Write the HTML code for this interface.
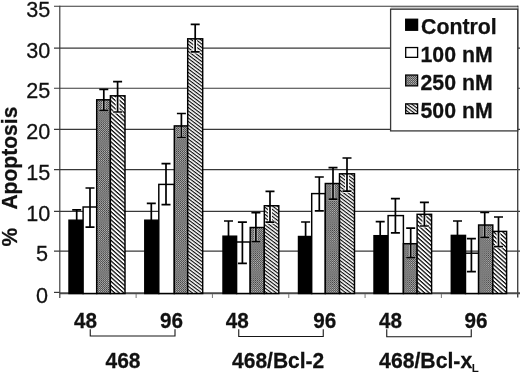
<!DOCTYPE html>
<html><head><meta charset="utf-8"><title>Apoptosis chart</title>
<style>
html,body{margin:0;padding:0;background:#fff;}
body{width:520px;height:373px;overflow:hidden;}
svg{display:block;filter:blur(0.35px);}
text{font-family:"Liberation Sans",sans-serif;fill:#111;}
.yl{font-size:21px;stroke:#111;stroke-width:0.25px;}
.b{font-size:21px;font-weight:bold;stroke:#111;stroke-width:0.25px;}
.sub{font-size:11.5px;font-weight:bold;}
.lg{font-size:21.3px;font-weight:bold;stroke:#111;stroke-width:0.25px;}
</style></head><body>
<svg width="520" height="373" viewBox="0 0 520 373">
<defs>
<pattern id="dots" width="2.08" height="2.08" patternUnits="userSpaceOnUse"><rect width="2.08" height="2.08" fill="#bcbcbc"/><rect width="1.04" height="1.04" fill="#383838"/><rect x="1.04" y="1.04" width="1.04" height="1.04" fill="#383838"/></pattern>
<pattern id="hatch" width="2.8" height="2.8" patternUnits="userSpaceOnUse" patternTransform="rotate(37)"><rect width="2.8" height="2.8" fill="#fff"/><rect width="2.8" height="1.15" fill="#080808"/></pattern>
<pattern id="hatchA" width="3.05" height="3.05" patternUnits="userSpaceOnUse" patternTransform="rotate(42)"><rect width="3.05" height="3.05" fill="#fff"/><rect width="3.05" height="1.25" fill="#080808"/></pattern>
</defs>
<rect width="520" height="373" fill="#fff"/>
<line x1="54.0" y1="6.25" x2="518.3000000000001" y2="6.25" stroke="#383838" stroke-width="1.2"/>
<line x1="54.0" y1="48.10" x2="520" y2="48.10" stroke="#383838" stroke-width="1.2"/>
<line x1="54.0" y1="88.25" x2="520" y2="88.25" stroke="#383838" stroke-width="1.2"/>
<line x1="54.0" y1="129.45" x2="520" y2="129.45" stroke="#383838" stroke-width="1.2"/>
<line x1="54.0" y1="169.70" x2="520" y2="169.70" stroke="#383838" stroke-width="1.2"/>
<line x1="54.0" y1="211.40" x2="520" y2="211.40" stroke="#383838" stroke-width="1.2"/>
<line x1="54.0" y1="251.15" x2="520" y2="251.15" stroke="#383838" stroke-width="1.2"/>
<line x1="54.0" y1="292.40" x2="59.8" y2="292.40" stroke="#383838" stroke-width="1.2"/>
<line x1="59.8" y1="293.2" x2="520" y2="293.2" stroke="#4a4a4a" stroke-width="2"/>
<line x1="59.8" y1="5.8" x2="59.8" y2="298" stroke="#383838" stroke-width="1.15"/>
<line x1="517.7" y1="5.8" x2="517.7" y2="297.6" stroke="#444" stroke-width="1.4"/>
<line x1="136.12" y1="294" x2="136.12" y2="298" stroke="#777" stroke-width="1"/>
<line x1="212.43" y1="294" x2="212.43" y2="298" stroke="#777" stroke-width="1"/>
<line x1="288.75" y1="294" x2="288.75" y2="298" stroke="#777" stroke-width="1"/>
<line x1="365.07" y1="294" x2="365.07" y2="298" stroke="#777" stroke-width="1"/>
<line x1="441.38" y1="294" x2="441.38" y2="298" stroke="#777" stroke-width="1"/>
<rect x="69.00" y="220.20" width="14.10" height="73.30" fill="#000" stroke="#000" stroke-width="1.45"/>
<rect x="83.10" y="207.00" width="13.60" height="86.50" fill="#fff" stroke="#000" stroke-width="1.45"/>
<rect x="96.70" y="99.80" width="13.70" height="193.70" fill="url(#dots)" stroke="#000" stroke-width="1.45"/>
<rect x="110.40" y="95.80" width="14.60" height="197.70" fill="url(#hatchA)" stroke="#000" stroke-width="1.45"/>
<path d="M72.20 209.80H81.20M76.70 209.80V230.60M72.20 230.60H81.20" stroke="#000" stroke-width="1.7" fill="none"/>
<path d="M85.50 188.00H94.50M90.00 188.00V227.20M85.50 227.20H94.50" stroke="#000" stroke-width="1.7" fill="none"/>
<path d="M103.80 101.00V110.30" stroke="#c8c8c8" stroke-width="3.2" fill="none"/>
<path d="M99.10 110.30H108.50" stroke="#c8c8c8" stroke-width="2.3000000000000003" fill="none"/>
<path d="M99.30 89.30H108.30M103.80 89.30V110.30M99.30 110.30H108.30" stroke="#000" stroke-width="1.7" fill="none"/>
<path d="M117.60 97.00V112.00" stroke="#fff" stroke-width="3.9" fill="none"/>
<path d="M112.90 112.00H122.30" stroke="#fff" stroke-width="3.0" fill="none"/>
<path d="M113.10 81.60H122.10M117.60 81.60V112.00M113.10 112.00H122.10" stroke="#000" stroke-width="1.7" fill="none"/>
<rect x="144.80" y="220.20" width="14.00" height="73.30" fill="#000" stroke="#000" stroke-width="1.45"/>
<rect x="158.80" y="184.40" width="15.50" height="109.10" fill="#fff" stroke="#000" stroke-width="1.45"/>
<rect x="174.30" y="125.90" width="13.40" height="167.60" fill="url(#dots)" stroke="#000" stroke-width="1.45"/>
<rect x="187.70" y="38.80" width="15.00" height="254.70" fill="url(#hatch)" stroke="#000" stroke-width="1.45"/>
<path d="M146.80 203.30H155.80M151.30 203.30V237.00M146.80 237.00H155.80" stroke="#000" stroke-width="1.7" fill="none"/>
<path d="M161.50 163.70H170.50M166.00 163.70V204.60M161.50 204.60H170.50" stroke="#000" stroke-width="1.7" fill="none"/>
<path d="M181.40 127.10V137.50" stroke="#c8c8c8" stroke-width="3.2" fill="none"/>
<path d="M176.70 137.50H186.10" stroke="#c8c8c8" stroke-width="2.3000000000000003" fill="none"/>
<path d="M176.90 113.50H185.90M181.40 113.50V137.50M176.90 137.50H185.90" stroke="#000" stroke-width="1.7" fill="none"/>
<path d="M195.20 40.00V51.90" stroke="#fff" stroke-width="3.9" fill="none"/>
<path d="M190.50 51.90H199.90" stroke="#fff" stroke-width="3.0" fill="none"/>
<path d="M190.70 24.30H199.70M195.20 24.30V51.90M190.70 51.90H199.70" stroke="#000" stroke-width="1.7" fill="none"/>
<rect x="223.00" y="236.20" width="13.60" height="57.30" fill="#000" stroke="#000" stroke-width="1.45"/>
<rect x="236.60" y="242.00" width="13.60" height="51.50" fill="#fff" stroke="#000" stroke-width="1.45"/>
<rect x="250.20" y="227.50" width="14.10" height="66.00" fill="url(#dots)" stroke="#000" stroke-width="1.45"/>
<rect x="264.30" y="205.75" width="14.50" height="87.75" fill="url(#hatch)" stroke="#000" stroke-width="1.45"/>
<path d="M224.00 221.00H233.00M228.50 221.00V251.40M224.00 251.40H233.00" stroke="#000" stroke-width="1.7" fill="none"/>
<path d="M237.90 222.20H246.90M242.40 222.20V263.30M237.90 263.30H246.90" stroke="#000" stroke-width="1.7" fill="none"/>
<path d="M255.90 228.70V241.60" stroke="#c8c8c8" stroke-width="3.2" fill="none"/>
<path d="M251.20 241.60H260.60" stroke="#c8c8c8" stroke-width="2.3000000000000003" fill="none"/>
<path d="M251.40 212.70H260.40M255.90 212.70V241.60M251.40 241.60H260.40" stroke="#000" stroke-width="1.7" fill="none"/>
<path d="M270.00 206.95V222.20" stroke="#fff" stroke-width="3.9" fill="none"/>
<path d="M265.30 222.20H274.70" stroke="#fff" stroke-width="3.0" fill="none"/>
<path d="M265.50 191.30H274.50M270.00 191.30V222.20M265.50 222.20H274.50" stroke="#000" stroke-width="1.7" fill="none"/>
<rect x="298.50" y="236.50" width="13.20" height="57.00" fill="#000" stroke="#000" stroke-width="1.45"/>
<rect x="311.70" y="193.60" width="13.60" height="99.90" fill="#fff" stroke="#000" stroke-width="1.45"/>
<rect x="325.30" y="183.50" width="14.20" height="110.00" fill="url(#dots)" stroke="#000" stroke-width="1.45"/>
<rect x="339.50" y="173.80" width="15.00" height="119.70" fill="url(#hatch)" stroke="#000" stroke-width="1.45"/>
<path d="M301.10 222.00H310.10M305.60 222.00V251.00M301.10 251.00H310.10" stroke="#000" stroke-width="1.7" fill="none"/>
<path d="M314.80 177.00H323.80M319.30 177.00V210.80M314.80 210.80H323.80" stroke="#000" stroke-width="1.7" fill="none"/>
<path d="M333.00 184.70V199.20" stroke="#c8c8c8" stroke-width="3.2" fill="none"/>
<path d="M328.30 199.20H337.70" stroke="#c8c8c8" stroke-width="2.3000000000000003" fill="none"/>
<path d="M328.50 167.70H337.50M333.00 167.70V199.20M328.50 199.20H337.50" stroke="#000" stroke-width="1.7" fill="none"/>
<path d="M347.00 175.00V191.20" stroke="#fff" stroke-width="3.9" fill="none"/>
<path d="M342.30 191.20H351.70" stroke="#fff" stroke-width="3.0" fill="none"/>
<path d="M342.50 158.00H351.50M347.00 158.00V191.20M342.50 191.20H351.50" stroke="#000" stroke-width="1.7" fill="none"/>
<rect x="374.00" y="235.70" width="14.10" height="57.80" fill="#000" stroke="#000" stroke-width="1.45"/>
<rect x="388.10" y="215.60" width="15.30" height="77.90" fill="#fff" stroke="#000" stroke-width="1.45"/>
<rect x="403.40" y="243.70" width="13.70" height="49.80" fill="url(#dots)" stroke="#000" stroke-width="1.45"/>
<rect x="417.10" y="214.30" width="14.50" height="79.20" fill="url(#hatchA)" stroke="#000" stroke-width="1.45"/>
<path d="M375.70 221.70H384.70M380.20 221.70V250.00M375.70 250.00H384.70" stroke="#000" stroke-width="1.7" fill="none"/>
<path d="M390.90 198.70H399.90M395.40 198.70V232.80M390.90 232.80H399.90" stroke="#000" stroke-width="1.7" fill="none"/>
<path d="M410.70 244.90V257.60" stroke="#c8c8c8" stroke-width="3.2" fill="none"/>
<path d="M406.00 257.60H415.40" stroke="#c8c8c8" stroke-width="2.3000000000000003" fill="none"/>
<path d="M406.20 228.10H415.20M410.70 228.10V257.60M406.20 257.60H415.20" stroke="#000" stroke-width="1.7" fill="none"/>
<path d="M424.40 215.50V226.00" stroke="#fff" stroke-width="3.9" fill="none"/>
<path d="M419.70 226.00H429.10" stroke="#fff" stroke-width="3.0" fill="none"/>
<path d="M419.90 202.40H428.90M424.40 202.40V226.00M419.90 226.00H428.90" stroke="#000" stroke-width="1.7" fill="none"/>
<rect x="451.30" y="235.40" width="14.20" height="58.10" fill="#000" stroke="#000" stroke-width="1.45"/>
<rect x="465.50" y="253.20" width="13.10" height="40.30" fill="#fff" stroke="#000" stroke-width="1.45"/>
<rect x="478.60" y="225.00" width="14.20" height="68.50" fill="url(#dots)" stroke="#000" stroke-width="1.45"/>
<rect x="492.80" y="231.40" width="13.80" height="62.10" fill="url(#hatchA)" stroke="#000" stroke-width="1.45"/>
<path d="M453.00 221.00H462.00M457.50 221.00V250.00M453.00 250.00H462.00" stroke="#000" stroke-width="1.7" fill="none"/>
<path d="M466.90 238.60H475.90M471.40 238.60V271.70M466.90 271.70H475.90" stroke="#000" stroke-width="1.7" fill="none"/>
<path d="M484.70 226.20V237.30" stroke="#c8c8c8" stroke-width="3.2" fill="none"/>
<path d="M480.00 237.30H489.40" stroke="#c8c8c8" stroke-width="2.3000000000000003" fill="none"/>
<path d="M480.20 212.50H489.20M484.70 212.50V237.30M480.20 237.30H489.20" stroke="#000" stroke-width="1.7" fill="none"/>
<path d="M498.50 232.60V246.70" stroke="#fff" stroke-width="3.9" fill="none"/>
<path d="M493.80 246.70H503.20" stroke="#fff" stroke-width="3.0" fill="none"/>
<path d="M494.00 217.00H503.00M498.50 217.00V246.70M494.00 246.70H503.00" stroke="#000" stroke-width="1.7" fill="none"/>
<text transform="translate(50.4,16.70) scale(1.03,1.08)" text-anchor="end" class="yl">35</text>
<text transform="translate(50.4,57.85) scale(1.03,1.08)" text-anchor="end" class="yl">30</text>
<text transform="translate(50.4,98.10) scale(1.03,1.08)" text-anchor="end" class="yl">25</text>
<text transform="translate(50.4,139.20) scale(1.03,1.08)" text-anchor="end" class="yl">20</text>
<text transform="translate(50.4,180.00) scale(1.03,1.08)" text-anchor="end" class="yl">15</text>
<text transform="translate(50.4,221.30) scale(1.03,1.08)" text-anchor="end" class="yl">10</text>
<text transform="translate(48.1,261.10) scale(1.03,1.08)" text-anchor="end" class="yl">5</text>
<text transform="translate(48.1,302.50) scale(1.03,1.08)" text-anchor="end" class="yl">0</text>
<text transform="translate(17.3,246.6) rotate(-90) scale(1,1.07)" class="b">%</text>
<text transform="translate(17.3,209.6) rotate(-90) scale(1,1.07)" class="b" textLength="103" lengthAdjust="spacingAndGlyphs">Apoptosis</text>
<text transform="translate(74,327.6) scale(0.985,1.05)" class="b">48</text>
<text transform="translate(160,327.6) scale(0.985,1.05)" class="b">96</text>
<text transform="translate(225.8,327.6) scale(0.985,1.05)" class="b">48</text>
<text transform="translate(313.2,327.6) scale(0.985,1.05)" class="b">96</text>
<text transform="translate(379,327.6) scale(0.985,1.05)" class="b">48</text>
<text transform="translate(464.5,327.6) scale(0.985,1.05)" class="b">96</text>
<path d="M90.25 329.3V336H175.00V329.3" stroke="#161616" stroke-width="1.1" fill="none"/>
<path d="M238.75 329.3V336.5H323.25V329.3" stroke="#161616" stroke-width="1.1" fill="none"/>
<path d="M386.75 329.3V336.75H471.25V329.3" stroke="#161616" stroke-width="1.1" fill="none"/>
<text transform="translate(105.5,367.6) scale(1,1.03)" class="b">468</text>
<text transform="translate(232.1,367.6) scale(1,1.02)" class="b">468/Bcl-2</text>
<text transform="translate(379.1,367.7) scale(1.01,1.02)" class="b">468/Bcl-x</text>
<text x="471.7" y="371.5" class="sub">L</text>
<rect x="390.6" y="7" width="127.10" height="2.2" fill="#cfcfcf"/>
<rect x="390.6" y="9.2" width="127.10" height="121.7" fill="#fff" stroke="#383838" stroke-width="1.3"/>
<rect x="405.7" y="19.25" width="11.9" height="11.00" fill="#000" stroke="#000" stroke-width="1.3"/>
<text x="421" y="33.70" class="lg">Control</text>
<rect x="405.7" y="47.55" width="11.9" height="9.80" fill="#fff" stroke="#000" stroke-width="1.3"/>
<text transform="translate(420.5,61.80) scale(1,1.04)" class="lg">100 nM</text>
<rect x="405.7" y="75.05" width="11.9" height="10.80" fill="url(#dots)" stroke="#000" stroke-width="1.3"/>
<text transform="translate(420.5,89.90) scale(1,1.04)" class="lg">250 nM</text>
<rect x="405.7" y="103.85" width="11.9" height="9.80" fill="url(#hatch)" stroke="#000" stroke-width="1.3"/>
<text transform="translate(420.5,118.00) scale(1,1.04)" class="lg">500 nM</text>
</svg>
</body></html>
